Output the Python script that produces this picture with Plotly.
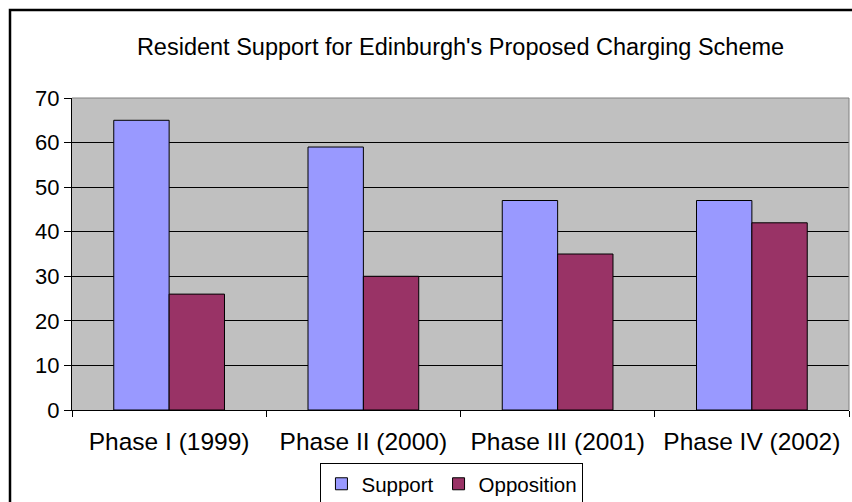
import plotly.graph_objects as go

categories = ["Phase I (1999)", "Phase II (2000)", "Phase III (2001)", "Phase IV (2002)"]
support = [65, 59, 47, 47]
opposition = [26, 30, 35, 42]
y_ticks = [0, 10, 20, 30, 40, 50, 60, 70]
title_text = "Resident Support for Edinburgh's Proposed Charging Scheme"

FONT = "Liberation Sans, Arial, sans-serif"

fig = go.Figure()
fig.add_trace(go.Bar(x=categories, y=support, name="Support",
                     marker=dict(color="#9999FF", line=dict(color="black", width=1))))
fig.add_trace(go.Bar(x=categories, y=opposition, name="Opposition",
                     marker=dict(color="#993366", line=dict(color="black", width=1))))

fig.update_layout(
    width=852, height=502,
    margin=dict(l=72, r=3, t=98, b=92, autoexpand=False),
    paper_bgcolor="white",
    plot_bgcolor="#C0C0C0",
    barmode="group",
    bargap=0.43,
    bargroupgap=0,
    font=dict(family=FONT, color="black"),
    title=dict(text=title_text, x=0.5, xref="paper", xanchor="center",
               y=1 - 47 / 502, yref="container", yanchor="middle",
               font=dict(size=23.5, family=FONT, color="black")),
    showlegend=True,
    legend=dict(orientation="h", x=0.489, y=-0.237, xanchor="center", yanchor="middle",
                bordercolor="black", borderwidth=1, bgcolor="white",
                font=dict(size=20.5, family=FONT, color="black"),
                itemwidth=30, tracegroupgap=0),
    xaxis=dict(showline=True, linecolor="black", linewidth=1, automargin=False,
               ticks="outside", tickson="boundaries", ticklen=6, tickcolor="black",
               tickfont=dict(size=24.5, family=FONT, color="black"),
               ticklabelstandoff=10, showgrid=False),
    yaxis=dict(range=[0, 70], tickvals=y_ticks, showline=True, linecolor="black", linewidth=1,
               automargin=False,
               ticks="outside", ticklen=7, tickcolor="black",
               tickfont=dict(size=22, family=FONT, color="black"),
               showgrid=True, gridcolor="black", gridwidth=1, zeroline=False),
)

# plot-area top/right border (grey) and outer chart border
fig.add_shape(type="line", xref="paper", yref="paper", x0=0, x1=1, y0=1, y1=1,
              line=dict(color="#808080", width=1))
fig.add_shape(type="line", xref="paper", yref="paper", x0=1, x1=1, y0=0, y1=1,
              line=dict(color="#808080", width=1))
fig.add_shape(type="rect", xref="paper", yref="paper",
              x0=(10 - 72) / 777, x1=1.2, y0=-0.6, y1=(410 - 10) / 312,
              line=dict(color="black", width=2.5), layer="below")

fig.write_html("out.html")
